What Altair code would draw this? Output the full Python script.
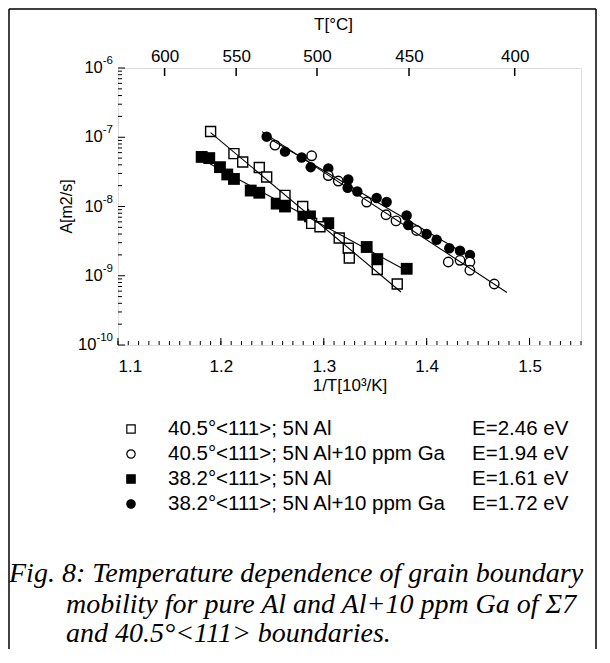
import altair as alt
import numpy as np
import pandas as pd

# ---------------- data ----------------
open_sq_x = [1.190, 1.2127, 1.2212, 1.2373, 1.2445, 1.2623, 1.2795, 1.2882, 1.2963, 1.315, 1.3238, 1.3248, 1.352, 1.3714]
open_sq_y = [1.21e-7, 5.8e-8, 4.4e-8, 3.65e-8, 2.67e-8, 1.45e-8, 1.0e-8, 5.7e-9, 5.1e-9, 3.5e-9, 2.5e-9, 1.8e-9, 1.23e-9, 7.6e-10]

open_ci_x = [1.2526, 1.2882, 1.3044, 1.3141, 1.3417, 1.3605, 1.3702, 1.3903, 1.4210, 1.4324, 1.4420, 1.4420, 1.4657]
open_ci_y = [7.7e-8, 5.4e-8, 2.8e-8, 2.33e-8, 1.16e-8, 7.6e-9, 6.2e-9, 4.5e-9, 1.58e-9, 1.67e-9, 1.58e-9, 1.2e-9, 7.6e-10]

fill_sq_x = [1.1813, 1.1887, 1.1991, 1.2062, 1.2127, 1.2290, 1.2373, 1.2542, 1.2623, 1.2801, 1.2866, 1.3044, 1.3417, 1.3520, 1.3806]
fill_sq_y = [5.2e-8, 5.0e-8, 3.7e-8, 2.9e-8, 2.5e-8, 1.7e-8, 1.58e-8, 1.1e-8, 1.0e-8, 7.6e-9, 7.2e-9, 5.75e-9, 2.6e-9, 1.74e-9, 1.26e-9]

fill_ci_x = [1.2445, 1.2623, 1.2785, 1.2873, 1.3044, 1.3232, 1.3238, 1.3326, 1.3514, 1.3611, 1.3805, 1.3821, 1.4000, 1.4097, 1.4220, 1.4324, 1.4421]
fill_ci_y = [1.02e-7, 6.2e-8, 5.1e-8, 3.7e-8, 3.55e-8, 1.86e-8, 2.45e-8, 1.65e-8, 1.33e-8, 1.16e-8, 7.4e-9, 5.4e-9, 4.0e-9, 3.3e-9, 2.5e-9, 2.3e-9, 2.0e-9]

series_names = ["40.5°<111>; 5N Al", "40.5°<111>; 5N Al+10 ppm Ga",
                "38.2°<111>; 5N Al", "38.2°<111>; 5N Al+10 ppm Ga"]
energies = ["E=2.46 eV", "E=1.94 eV", "E=1.61 eV", "E=1.72 eV"]
fit_ranges = [(1.19, 1.375), (1.24, 1.478), (1.18, 1.38), (1.24, 1.445)]

temps_C = [600, 550, 500, 450, 400]
x_ticks = [1.1, 1.2, 1.3, 1.4, 1.5]
y_exps = [-10, -9, -8, -7, -6]

caption = ["Fig. 8: Temperature dependence of grain boundary",
           "mobility for pure Al and Al+10 ppm Ga of Σ7",
           "and 40.5°<111> boundaries."]

# ---------------- layout ----------------
W, H = 463, 277
PADL, PADT, PADR, PADB = 110, 60, 16, 304
SANS = "Liberation Sans"
SERIF = "Liberation Serif"
BASE_FS, EXP_FS = 16.5, 11.5

xs = alt.Scale(domain=[1.1, 1.55], nice=False, zero=False)
ys = alt.Scale(type="log", domain=[1e-10, 1e-6], nice=False)

sets = [(open_sq_x, open_sq_y), (open_ci_x, open_ci_y), (fill_sq_x, fill_sq_y), (fill_ci_x, fill_ci_y)]
dfs = [pd.DataFrame({"x": sx, "y": sy}) for sx, sy in sets]

# regression lines (least squares on log10 A)
line_rows = []
for name, (sx, sy), (lo, hi) in zip(series_names, sets, fit_ranges):
    b, a = np.polyfit(np.array(sx), np.log10(np.array(sy)), 1)
    for xv in (lo, hi):
        line_rows.append({"series": name, "x": xv, "y": 10 ** (a + b * xv)})
df_lines = pd.DataFrame(line_rows)

x_axis = alt.Axis(values=x_ticks, format=".1f", ticks=False, domain=False, grid=False,
                  labelFontSize=17, labelPadding=13, labelFont=SANS, labelColor="black",
                  title="1/T[10³/K]", titleFont=SANS, titleFontSize=17, titleFontWeight="normal",
                  titleColor="black", titlePadding=3)

top_vals = [1000.0 / (t + 273.15) for t in temps_C]
top_axis = alt.Axis(orient="top", values=top_vals, labelExpr="format(1000/datum.value - 273.15, '.0f')",
                    ticks=False, domain=False, grid=False, labelFontSize=17, labelPadding=3,
                    labelFont=SANS, labelColor="black", title="T[°C]", titleFont=SANS,
                    titleFontSize=17, titleFontWeight="normal", titleColor="black", titlePadding=14,
                    titleX=215)

enc_x = lambda ax=None: alt.X("x:Q", scale=xs, axis=ax)
enc_y = lambda: alt.Y("y:Q", scale=ys, axis=None)

l_fsq = alt.Chart(dfs[2]).mark_square(size=140, color="black", opacity=1).encode(x=enc_x(x_axis), y=enc_y())
l_osq = alt.Chart(dfs[0]).mark_square(size=100, fill="white", stroke="black", strokeWidth=1.4, opacity=1).encode(x=enc_x(), y=enc_y())
l_fci = alt.Chart(dfs[3]).mark_circle(size=110, color="black", opacity=1).encode(x=enc_x(), y=enc_y())
l_oci = alt.Chart(dfs[1]).mark_circle(size=90, fill="white", stroke="black", strokeWidth=1.4, opacity=1).encode(x=enc_x(), y=enc_y())
l_lines = alt.Chart(df_lines).mark_line(color="black", strokeWidth=1.1).encode(x=enc_x(), y=enc_y(), detail="series:N")

# y axis labels: "10" with a raised exponent
def exp_width(s):
    return sum(0.333 if c == "-" else 0.556 for c in s) * EXP_FS
ylab = pd.DataFrame({
    "v": [10.0 ** e for e in y_exps],
    "exp": [str(e) for e in y_exps],
    "base": ["10"] * len(y_exps),
    "bx": [-5 - exp_width(str(e)) for e in y_exps],
})
t_yexp = alt.Chart(ylab).mark_text(align="right", baseline="middle", font=SANS, fontSize=EXP_FS,
                                   dy=-7, color="black").encode(
    y=alt.Y("v:Q", scale=ys, axis=None), x=alt.value(-5), text="exp:N")
t_ybase = alt.Chart(ylab).mark_text(align="right", baseline="middle", font=SANS, fontSize=BASE_FS,
                                    color="black").encode(
    y=alt.Y("v:Q", scale=ys, axis=None), x=alt.X("bx:Q", scale=None), text="base:N")
t_ytitle = alt.Chart(pd.DataFrame({"t": ["A[m2/s]"]})).mark_text(
    angle=270, align="center", baseline="middle", font=SANS, fontSize=16, color="black").encode(
    text="t:N", x=alt.value(-51), y=alt.value(H / 2))

# inward axis ticks
y_major = pd.DataFrame({"v": [10.0 ** e for e in y_exps]})
y_minor = pd.DataFrame({"v": [m * 10.0 ** e for e in y_exps[:-1] for m in range(2, 10)]})
x_minor = pd.DataFrame({"v": [round(v / 100, 2) for v in range(110, 156)]})
x_major = pd.DataFrame({"v": x_ticks})
top_df = pd.DataFrame({"v": top_vals})

t_ymaj = alt.Chart(y_major).mark_rule(color="black", strokeWidth=1).encode(
    y=alt.Y("v:Q", scale=ys, axis=None), x=alt.value(0), x2=alt.value(7))
t_ymin = alt.Chart(y_minor).mark_rule(color="black", strokeWidth=1).encode(
    y=alt.Y("v:Q", scale=ys, axis=None), x=alt.value(0), x2=alt.value(4))
t_xmin = alt.Chart(x_minor).mark_rule(color="black", strokeWidth=1).encode(
    x=alt.X("v:Q", scale=xs, axis=None), y=alt.value(H), y2=alt.value(H - 4))
t_xmaj = alt.Chart(x_major).mark_rule(color="black", strokeWidth=1).encode(
    x=alt.X("v:Q", scale=xs, axis=None), y=alt.value(H), y2=alt.value(H - 7))
t_top = alt.Chart(top_df).mark_rule(color="black", strokeWidth=1.5).encode(
    x=alt.X("v:Q", scale=xs, axis=top_axis), y=alt.value(0), y2=alt.value(8))

# legend (drawn as text + symbols below the plot)
LEG_Y0, LEG_DY = 361, 25
leg_layers = []
leg_styles = [
    dict(shape="square", fill="white", stroke="black"),
    dict(shape="circle", fill="white", stroke="black"),
    dict(shape="square", fill="black", stroke="black"),
    dict(shape="circle", fill="black", stroke="black"),
]
for i, (name, en, st) in enumerate(zip(series_names, energies, leg_styles)):
    yy = LEG_Y0 + i * LEG_DY
    leg_layers.append(alt.Chart(pd.DataFrame({"t": [name]})).mark_point(
        shape=st["shape"], fill=st["fill"], stroke=st["stroke"], strokeWidth=1.2, filled=True,
        size=70, opacity=1).encode(x=alt.value(13), y=alt.value(yy)))
    leg_layers.append(alt.Chart(pd.DataFrame({"t": [name]})).mark_text(
        align="left", baseline="middle", font=SANS, fontSize=20.5, color="black").encode(
        text="t:N", x=alt.value(50), y=alt.value(yy)))
    leg_layers.append(alt.Chart(pd.DataFrame({"t": [en]})).mark_text(
        align="left", baseline="middle", font=SANS, fontSize=20.5, color="black").encode(
        text="t:N", x=alt.value(354), y=alt.value(yy)))

# caption
cap_layers = []
cap_pos = [(-109, 506), (-52, 537), (-52, 566)]
for line, (cx, cy) in zip(caption, cap_pos):
    cap_layers.append(alt.Chart(pd.DataFrame({"t": [line]})).mark_text(
        align="left", baseline="middle", font=SERIF, fontSize=28, fontStyle="italic",
        color="black").encode(text="t:N", x=alt.value(cx), y=alt.value(cy)))

# outer frame of the figure
frame_l = alt.Chart(pd.DataFrame({"a": [0]})).mark_rule(color="black", strokeWidth=1.5).encode(
    x=alt.value(-PADL + 1), y=alt.value(-PADT + 1), y2=alt.value(H + PADB))
frame_t = alt.Chart(pd.DataFrame({"a": [0]})).mark_rule(color="black", strokeWidth=1.5).encode(
    x=alt.value(-PADL + 1), x2=alt.value(W + PADR - 1), y=alt.value(-PADT + 1))
frame_r = alt.Chart(pd.DataFrame({"a": [0]})).mark_rule(color="black", strokeWidth=1.5).encode(
    x=alt.value(W + PADR - 1), y=alt.value(-PADT + 1), y2=alt.value(H + PADB))

chart = alt.layer(
    l_fsq, l_osq, l_fci, l_oci, l_lines,
    t_ymaj, t_ymin, t_xmin, t_xmaj, t_top, t_yexp, t_ybase, t_ytitle,
    *leg_layers, *cap_layers, frame_l, frame_t, frame_r
).resolve_axis(x="independent", y="independent").properties(
    width=W, height=H,
    autosize=alt.AutoSizeParams(type="none"),
    padding={"left": PADL, "top": PADT, "right": PADR, "bottom": PADB},
).configure_view(stroke="black", strokeWidth=2).configure(background="white")

chart.save("out.html", embed_options={"renderer": "svg", "actions": False})
